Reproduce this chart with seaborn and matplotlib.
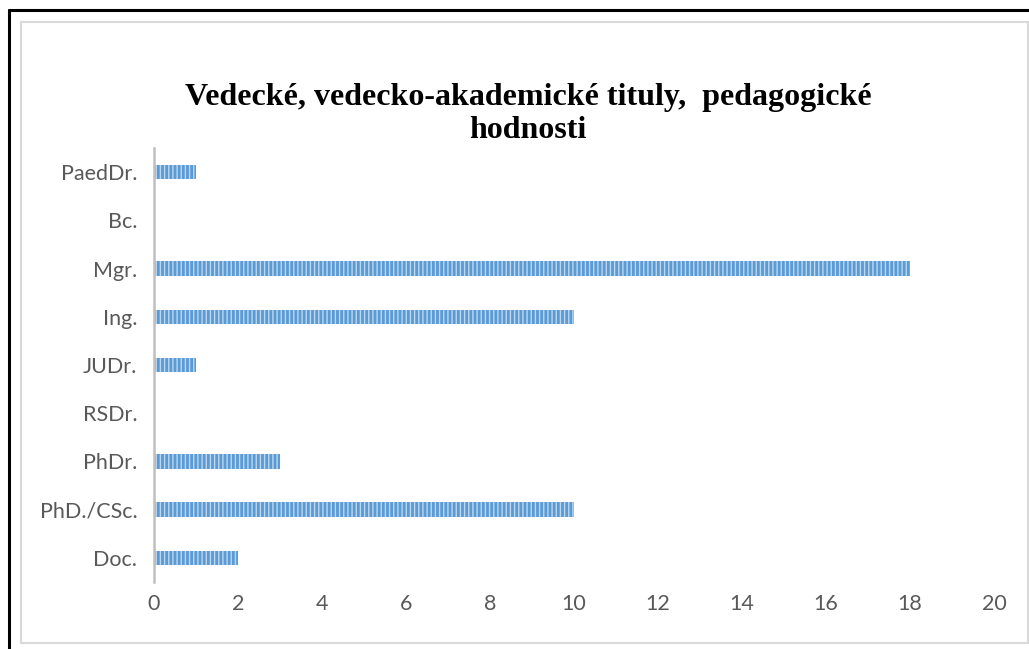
import matplotlib
matplotlib.use("Agg")
import matplotlib.pyplot as plt
import seaborn as sns
import pandas as pd
from matplotlib.patches import Rectangle
from matplotlib.lines import Line2D

categories = ["PaedDr.", "Bc.", "Mgr.", "Ing.", "JUDr.", "RSDr.", "PhDr.", "PhD./CSc.", "Doc."]
values = [1, 0, 18, 10, 1, 0, 3, 10, 2]
x_ticks = [0, 2, 4, 6, 8, 10, 12, 14, 16, 18, 20]
title = "Vedecké, vedecko-akademické tituly,  pedagogické\nhodnosti"

sns.set_theme(style="white")
plt.rcParams['font.family'] = ['Lato', 'DejaVu Sans']
plt.rcParams['hatch.linewidth'] = 1.0

df = pd.DataFrame({"titul": categories, "pocet": values})

W, H = 1029, 649
fig = plt.figure(figsize=(W / 100, H / 100), dpi=100)
fig.patch.set_facecolor("white")

# frame borders
fig.add_artist(Line2D([9 / W, 9 / W], [0, 1 - 10 / H], color="black", lw=2.2, transform=fig.transFigure))
fig.add_artist(Line2D([9 / W, 1], [1 - 10 / H, 1 - 10 / H], color="black", lw=2.2, transform=fig.transFigure))
fig.add_artist(Rectangle((21 / W, 1 - 643 / H), (1028 - 21) / W, (643 - 22) / H,
                         fill=False, edgecolor="#D9D9D9", lw=1.5, transform=fig.transFigure))

ax = fig.add_axes([154 / W, 1 - 582 / H, 840 / W, (582 - 148) / H])
sns.barplot(data=df, y="titul", x="pocet", orient="h", order=categories,
            color="#5B9BD5", width=0.3, ax=ax, saturation=1)
for p in ax.patches:
    p.set_facecolor("#5B9BD5")
    p.set_edgecolor("#BDD7EE")
    p.set_linewidth(0)
    p.set_hatch("||||")

ax.set_xlim(0, 20)
ax.set_ylim(len(categories) - 0.5, -0.5)
ax.set_xticks(x_ticks)
ax.set_xticklabels([str(t) for t in x_ticks])
ax.set_xlabel("")
ax.set_ylabel("")
for s in ["top", "right", "bottom"]:
    ax.spines[s].set_visible(False)
ax.spines["left"].set_color("#BFBFBF")
ax.spines["left"].set_linewidth(1.8)
ax.tick_params(axis="both", length=0, labelsize=15.5, labelcolor="#595959")
ax.tick_params(axis="x", pad=9)
ax.tick_params(axis="y", pad=12)
ax.grid(False)

fig.text(528 / W, 1 - 114 / H, title, ha="center", va="center", fontsize=23,
         fontweight="bold", color="black", family=["Liberation Serif", "DejaVu Serif"],
         linespacing=1.2)

fig.savefig("out.png", dpi=100)
